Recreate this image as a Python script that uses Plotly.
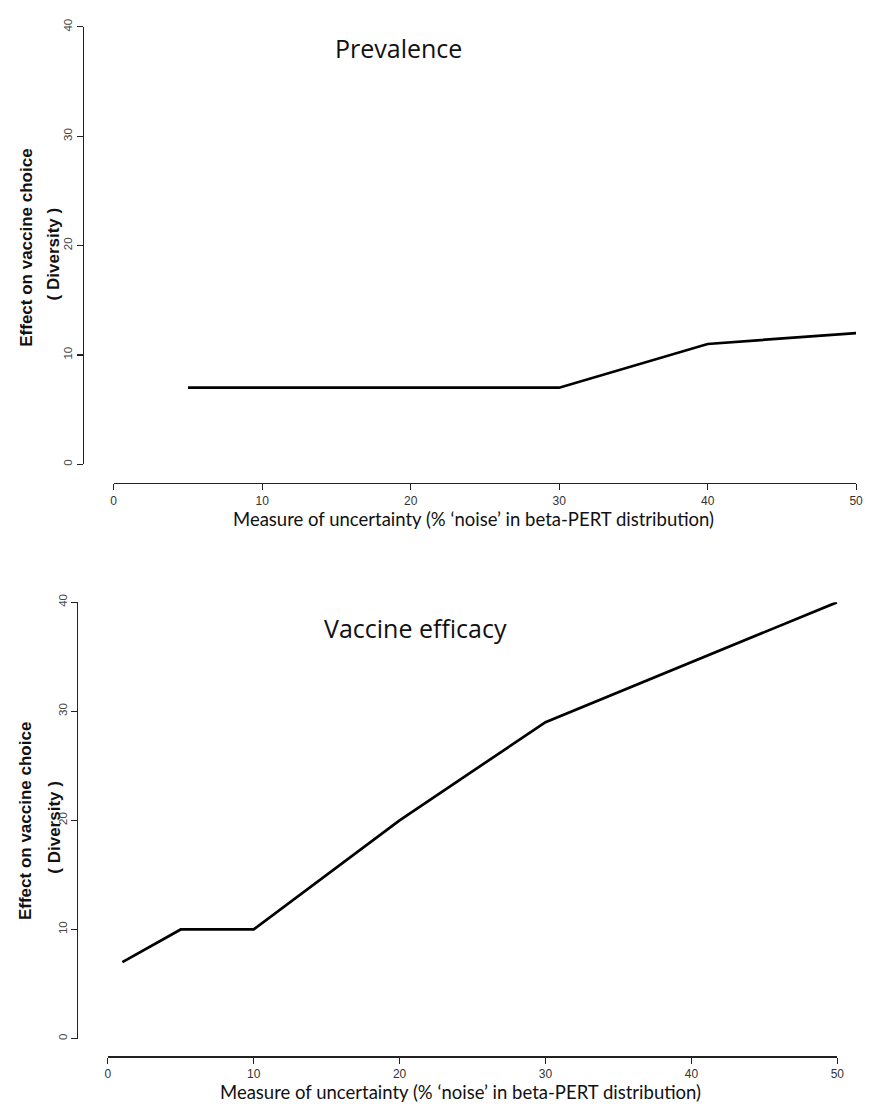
import plotly.graph_objects as go

W, H = 872, 1107

# ---- data ----
prev_x = [5, 10, 20, 30, 40, 50]
prev_y = [7, 7, 7, 7, 11, 12]

eff_x = [1, 5, 10, 20, 30, 40, 50]
eff_y = [7, 10, 10, 20, 29, 34.5, 40]

x_ticks = [0, 10, 20, 30, 40, 50]
y_ticks = [0, 10, 20, 30, 40]

titles = ["Prevalence", "Vaccine efficacy"]
x_title = "Measure of uncertainty (% \u2018noise\u2019 in beta-PERT distribution)"
y_title_1 = "Effect on vaccine choice"
y_title_2 = "( Diversity )"

# ---- pixel helpers ----
def px(x):
    return x / W

def py(y):
    return 1 - y / H

fig = go.Figure()

panels = [
    dict(x0=112, x1=863, xline=479, yline=81, y0=460, y1=19,
         title_xy=(400, 40), xt_y=515, ytl_x=(23, 52), ytl_y=242),
    dict(x0=106, x1=844, xline=1057, yline=75, y0=1039, y1=599,
         title_xy=(417, 625), xt_y=1093, ytl_x=(23, 52), ytl_y=820),
]
data = [(prev_x, prev_y), (eff_x, eff_y)]

annotations = []
for i, (p, (xs, ys)) in enumerate(zip(panels, data), start=1):
    xa = "x" if i == 1 else f"x{i}"
    ya = "y" if i == 1 else f"y{i}"
    fig.add_trace(go.Scatter(x=xs, y=ys, mode="lines", xaxis=xa, yaxis=ya,
                             line=dict(color="black", width=2.7),
                             showlegend=False, hoverinfo="skip"))
    axcommon = dict(showgrid=False, zeroline=False, showline=True,
                    linecolor="#222", linewidth=1.2, ticks="outside",
                    ticklen=6, tickcolor="#222", tickwidth=1.2)
    fig.update_layout(**{
        ("xaxis" if i == 1 else f"xaxis{i}"): dict(
            domain=[px(p["x0"]), px(p["x1"])], range=[0, 50],
            anchor="free", position=py(p["xline"]),
            tickvals=x_ticks, ticktext=[str(v) for v in x_ticks],
            tickfont=dict(family="Liberation Sans", size=12, color="#333"),
            **axcommon),
        ("yaxis" if i == 1 else f"yaxis{i}"): dict(
            domain=[py(p["y0"]), py(p["y1"])], range=[0, 40],
            anchor="free", position=px(p["yline"]),
            tickvals=y_ticks, ticktext=[str(v) for v in y_ticks],
            tickangle=-90,
            tickfont=dict(family="Liberation Sans", size=11.5, color="#444"),
            **axcommon),
    })
    tx, ty = p["title_xy"]
    annotations.append(dict(text=titles[i - 1], x=px(tx), y=py(ty),
                            xref="paper", yref="paper", showarrow=False,
                            xanchor="center", yanchor="middle",
                            font=dict(family="Open Sans", size=25, color="#111")))
    annotations.append(dict(text=x_title, x=px((p["x0"] + p["x1"]) / 2 - 12),
                            y=py(p["xt_y"]), xref="paper", yref="paper",
                            showarrow=False, xanchor="center", yanchor="middle",
                            font=dict(family="Lato", size=18.5, color="#111")))
    annotations.append(dict(text=f"<b>{y_title_1}</b>", x=px(p["ytl_x"][0]),
                            y=py(p["ytl_y"]), xref="paper", yref="paper",
                            showarrow=False, textangle=-90,
                            xanchor="center", yanchor="middle",
                            font=dict(family="Liberation Sans", size=17, color="#111")))
    annotations.append(dict(text=f"<b>{y_title_2}</b>", x=px(p["ytl_x"][1]),
                            y=py(p["ytl_y"] + 6), xref="paper", yref="paper",
                            showarrow=False, textangle=-90,
                            xanchor="center", yanchor="middle",
                            font=dict(family="Liberation Sans", size=17, color="#111")))

fig.update_layout(width=W, height=H, margin=dict(l=0, r=0, t=0, b=0),
                  paper_bgcolor="white", plot_bgcolor="white",
                  annotations=annotations)

fig.write_html(
    "out.html",
    config={"displayModeBar": False, "staticPlot": True},
    post_script="document.body.style.margin='0';"
                "document.documentElement.style.overflow='hidden';"
                "document.body.style.overflow='hidden';",
)
